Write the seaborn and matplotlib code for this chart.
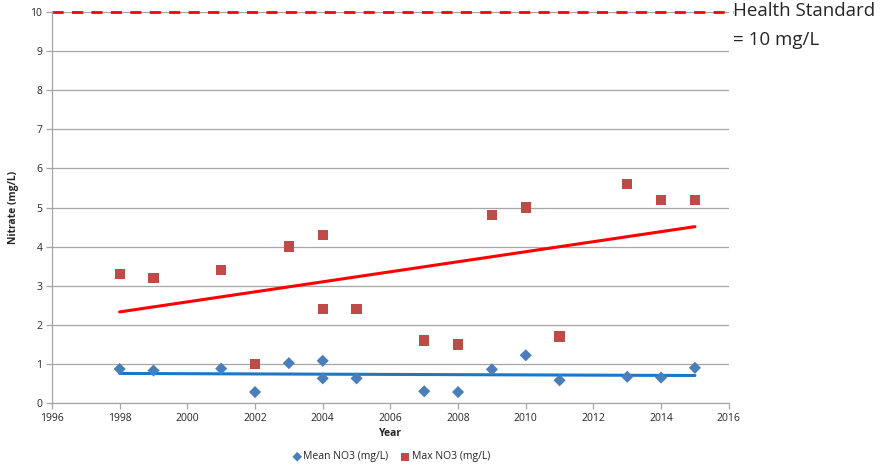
import numpy as np
import pandas as pd
import seaborn as sns
import matplotlib.pyplot as plt

# values
mean_years = [1998, 1999, 2001, 2002, 2003, 2004, 2004, 2005, 2007, 2008, 2009, 2010, 2011, 2013, 2014, 2015]
mean_no3 = [0.87, 0.83, 0.88, 0.28, 1.02, 1.08, 0.63, 0.63, 0.30, 0.28, 0.86, 1.22, 0.58, 0.67, 0.65, 0.90]
max_years = [1998, 1999, 2001, 2002, 2003, 2004, 2004, 2005, 2007, 2008, 2009, 2010, 2011, 2013, 2014, 2015]
max_no3 = [3.3, 3.2, 3.4, 1.0, 4.0, 4.3, 2.4, 2.4, 1.6, 1.5, 4.8, 5.0, 1.7, 5.6, 5.2, 5.2]
health_standard = 10

mean_df = pd.DataFrame({'Year': mean_years, 'NO3': mean_no3})
max_df = pd.DataFrame({'Year': max_years, 'NO3': max_no3})

sns.set_style('white')
plt.rcParams['font.family'] = ['Open Sans', 'DejaVu Sans']

fig = plt.figure(figsize=(8.92, 4.69), dpi=100)
ax = fig.add_axes([0.0583, 0.1407, 0.7587, 0.8337])

# grid lines
for v in range(0, 11):
    ax.axhline(v, color='#a6a6a6', lw=0.9, zorder=0)

ax.axhline(health_standard, xmin=0, xmax=1.006, color='red', lw=2, ls=(0, (4, 3)),
           zorder=2, clip_on=False)

sns.regplot(data=mean_df, x='Year', y='NO3', scatter=False, ci=None, ax=ax,
            line_kws={'color': '#1f77c4', 'lw': 2.2, 'zorder': 3})
sns.regplot(data=max_df, x='Year', y='NO3', scatter=False, ci=None, ax=ax,
            line_kws={'color': '#ff0000', 'lw': 2.2, 'zorder': 3})

sns.scatterplot(data=mean_df, x='Year', y='NO3', marker='D', s=38, color='#4a7ebb',
                edgecolor='none', ax=ax, zorder=4, label='Mean NO3 (mg/L)')
sns.scatterplot(data=max_df, x='Year', y='NO3', marker='s', s=55, color='#be4b48',
                edgecolor='none', ax=ax, zorder=4, label='Max NO3 (mg/L)')

ax.set_xlim(1996, 2016)
ax.set_ylim(0, 10)
ax.set_xticks(range(1996, 2017, 2))
ax.set_yticks(range(0, 11))

for side in ['top', 'right']:
    ax.spines[side].set_visible(False)
for side in ['left', 'bottom']:
    ax.spines[side].set_color('#a6a6a6')
    ax.spines[side].set_linewidth(0.9)
ax.tick_params(axis='both', which='major', direction='out', length=4, width=0.9,
               color='#a6a6a6', labelsize=7.5, pad=3)
ax.tick_params(axis='x', bottom=True)
ax.tick_params(axis='y', left=True)

ax.set_xlabel('Year', fontsize=7.5, fontweight='bold', labelpad=3)
ax.set_ylabel('Nitrate (mg/L)', fontsize=7.5, fontweight='bold', labelpad=8)

ax.legend(loc='upper center', bbox_to_anchor=(0.5, -0.1), ncol=2, frameon=False,
          fontsize=7.5, handletextpad=0.0, handlelength=1.2, columnspacing=1.0,
          markerscale=0.8)

fig.text(0.822, 1 - 16 / 469, 'Health Standard', fontsize=13.5, va='baseline', ha='left')
fig.text(0.822, 1 - 45 / 469, '= 10 mg/L', fontsize=13.5, va='baseline', ha='left')

fig.savefig('out.png', dpi=100)
